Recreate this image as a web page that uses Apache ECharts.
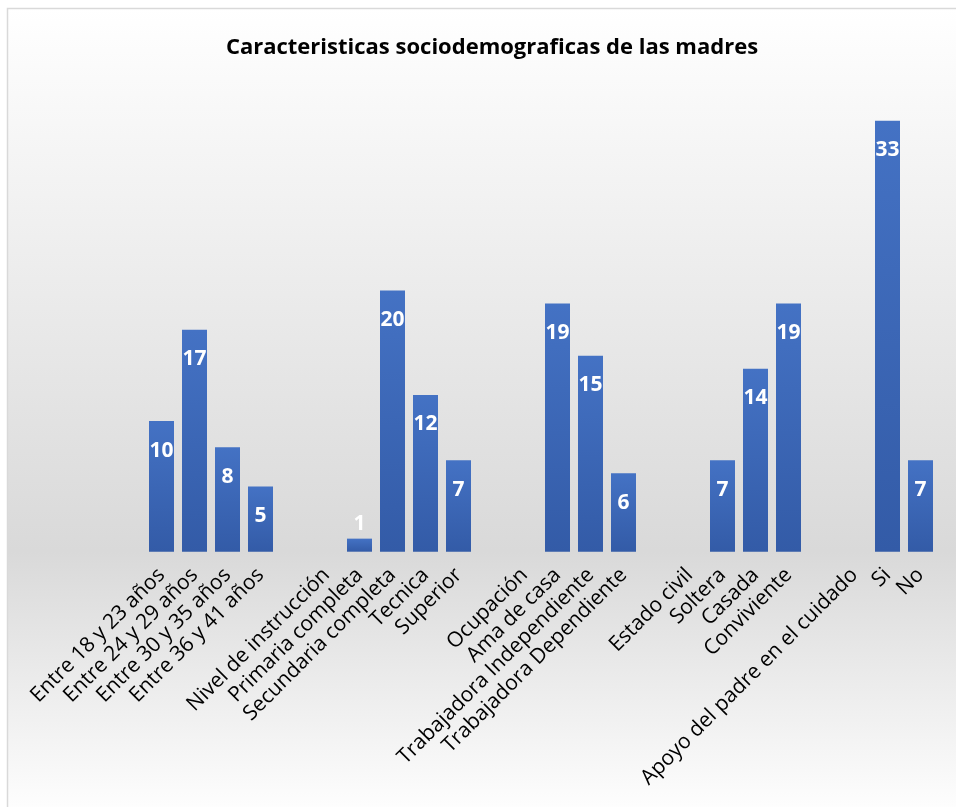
<!DOCTYPE html>
<html>
<head>
<meta charset="utf-8">
<script src="https://cdn.jsdelivr.net/npm/echarts@6/dist/echarts.min.js"></script>
<style>
  html, body { margin: 0; padding: 0; background: #fff; }
  #main { width: 956px; height: 807px; }
</style>
</head>
<body>
<div id="main"></div>
<script>
// categorias (las vacias separan los grupos)
var categorias = [
  'Entre 18 y 23 años', 'Entre 24 y 29 años', 'Entre 30 y 35 años', 'Entre 36 y 41 años',
  '', 'Nivel de instrucción', 'Primaria completa', 'Secundaria completa', 'Tecnica', 'Superior',
  '', 'Ocupación', 'Ama de casa', 'Trabajadora Independiente', 'Trabajadora Dependiente',
  '', 'Estado civil', 'Soltera', 'Casada', 'Conviviente',
  '', 'Apoyo del padre en el cuidado', 'Si', 'No'
];
// valores (null = sin barra)
var valores = [
  10, 17, 8, 5,
  null, null, 1, 20, 12, 7,
  null, null, 19, 15, 6,
  null, null, 7, 14, 19,
  null, null, 33, 7
];
var titulo = 'Caracteristicas sociodemograficas de las madres';

var chart = echarts.init(document.getElementById('main'));

// barras cortas: etiqueta encima
var datos = valores.map(function (v) {
  if (v === null) return '-';
  if (v < 3) {
    return { value: v, label: { position: 'top', distance: 4 } };
  }
  return v;
});

var option = {
  animation: false,
  textStyle: { fontFamily: 'Open Sans' },
  graphic: [
    {
      type: 'rect',
      z: -10,
      shape: { x: 7.5, y: 8.5, width: 960, height: 810 },
      style: {
        fill: new echarts.graphic.LinearGradient(0, 0, 0, 1, [
          { offset: 0, color: '#ffffff' },
          { offset: 0.67, color: '#d9d9d9' },
          { offset: 1, color: '#ffffff' }
        ]),
        stroke: '#d9d9d9',
        lineWidth: 1.5
      }
    }
  ],
  title: {
    text: titulo,
    left: 487,
    top: 32,
    textAlign: 'center',
    textStyle: {
      fontFamily: 'Open Sans',
      fontWeight: 'bold',
      fontSize: 22,
      color: '#000'
    }
  },
  grid: {
    left: 145,
    right: 19,
    top: 94.6,
    bottom: 255.3,
    containLabel: false
  },
  xAxis: {
    type: 'category',
    data: categorias,
    boundaryGap: true,
    axisLine: { show: false },
    axisTick: { show: false },
    axisLabel: {
      interval: 0,
      rotate: 45,
      margin: 20,
      fontSize: 21,
      color: '#000',
      fontFamily: 'Open Sans'
    }
  },
  yAxis: {
    type: 'value',
    min: 0,
    max: 35,
    show: false,
    splitLine: { show: false }
  },
  series: [{
    type: 'bar',
    data: datos,
    barWidth: 25,
    itemStyle: {
      color: new echarts.graphic.LinearGradient(0, 0, 0, 1, [
        { offset: 0, color: '#4472c4' },
        { offset: 1, color: '#335ba7' }
      ])
    },
    label: {
      show: true,
      position: 'insideTop',
      distance: 19,
      color: '#fff',
      fontWeight: 'bold',
      fontSize: 21,
      fontFamily: 'Open Sans'
    }
  }]
};

chart.setOption(option);
</script>
</body>
</html>
